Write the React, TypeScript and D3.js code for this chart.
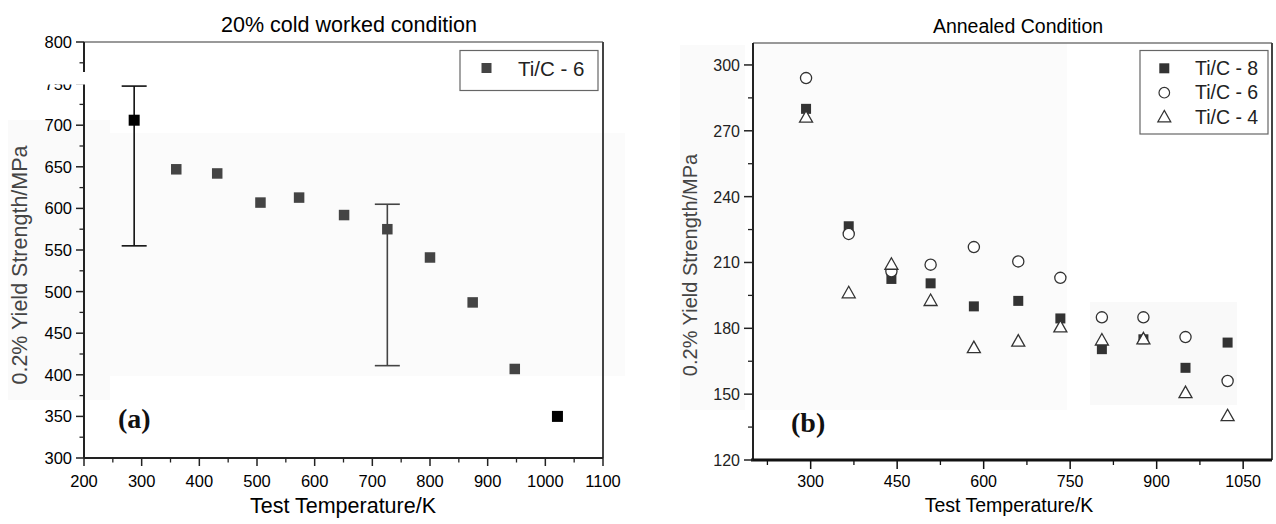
import React from "react";
import * as d3 from "d3";

// ---------- Panel (a): 20% cold worked condition ----------
const coldTemps = [287, 360, 431, 506, 573, 651, 726, 800, 874, 947, 1021];
const coldStrength = [706, 647, 642, 607, 613, 592, 575, 541, 487, 407, 350];
const errTemps = [287, 726];
const errLow = [555, 411];
const errHigh = [747, 605];

const leftXTicks = [200, 300, 400, 500, 600, 700, 800, 900, 1000, 1100];
const leftXMinor = [250, 350, 450, 550, 650, 750, 850, 950, 1050];
const leftYTicks = [300, 350, 400, 450, 500, 550, 600, 650, 700, 750, 800];
const leftYMinor = [325, 375, 425, 475, 525, 575, 625, 675, 725, 775];

// ---------- Panel (b): Annealed condition ----------
const annealTemps = [292, 366, 440, 508, 583, 660, 733, 805, 877, 950, 1023];
const ti8 = [280, 226.5, 202.5, 200.5, 190, 192.5, 184.5, 170.5, 175, 162, 173.5];
const ti6 = [294, 223, 206, 209, 217, 210.5, 203, 185, 185, 176, 156];
const ti4 = [276, 196, 209, 192.5, 171, 174, 180.5, 174.5, 175, 150.5, 140];

const rightXTicks = [300, 450, 600, 750, 900, 1050];
const rightXMinor = [225, 375, 525, 675, 825, 975];
const rightYTicks = [120, 150, 180, 210, 240, 270, 300];
const rightYMinor = [135, 165, 195, 225, 255, 285];

const SANS = "'Liberation Sans', Arial, Helvetica, sans-serif";
const SERIF = "'Liberation Serif', 'Times New Roman', serif";

function triPath(cx: number, cy: number, w = 13, h = 11.5) {
  return `M${cx},${cy - h * 0.6} L${cx + w / 2},${cy + h * 0.4} L${cx - w / 2},${cy + h * 0.4} Z`;
}

export default function App() {
  const xA = d3.scaleLinear().domain([200, 1100]).range([84, 603]);
  const yA = d3.scaleLinear().domain([300, 800]).range([458, 42]);
  const xB = d3.scaleLinear().domain([200, 1100]).range([753, 1272]);
  const yB = d3.scaleLinear().domain([120, 310]).range([460, 43]);

  const n = coldTemps.length;

  return (
    <svg
      width={1276}
      height={524}
      style={{ position: "absolute", left: 0, top: 0, background: "#fff" }}
      fontFamily={SANS}
    >
      {/* faint scan background patches */}
      <rect x={8} y={120} width={102} height={280} fill="#fafafa" />
      <rect x={110} y={133} width={515} height={243} fill="#fbfbfb" />
      <rect x={680} y={45} width={65} height={365} fill="#fafafa" />
      <rect x={753} y={43} width={314} height={367} fill="#fbfbfb" />
      <rect x={1090} y={302} width={147} height={103} fill="#f9f9f9" />

      {/* ================= Panel (a) ================= */}
      <text x={349} y={32} fontSize={21.5} textAnchor="middle" fill="#000">
        20% cold worked condition
      </text>

      <line x1={xA(200)} x2={xA(1100)} y1={yA(800)} y2={yA(800)} stroke="#777" strokeWidth={1.5} />
      <line x1={xA(1100)} x2={xA(1100)} y1={yA(800)} y2={yA(300)} stroke="#444" strokeWidth={2} />
      <line x1={xA(200)} x2={xA(200)} y1={yA(800)} y2={yA(300)} stroke="#222" strokeWidth={2} />
      <line x1={xA(200)} x2={xA(1100)} y1={yA(300)} y2={yA(300)} stroke="#222" strokeWidth={2.2} />

      {leftXTicks.map((t) => (
        <g key={"lxt" + t}>
          <line x1={xA(t)} x2={xA(t)} y1={yA(300)} y2={yA(300) + 8} stroke="#222" strokeWidth={1.5} />
          <text x={xA(t)} y={487} fontSize={16.5} textAnchor="middle" fill="#000">
            {t}
          </text>
        </g>
      ))}
      {leftXMinor.map((t) => (
        <line key={"lxm" + t} x1={xA(t)} x2={xA(t)} y1={yA(300)} y2={yA(300) + 4.5} stroke="#222" strokeWidth={1.3} />
      ))}
      {leftYTicks.map((t) => (
        <g key={"lyt" + t}>
          <line x1={xA(200) - 8} x2={xA(200)} y1={yA(t)} y2={yA(t)} stroke="#222" strokeWidth={1.5} />
          <text x={72} y={yA(t) + 6} fontSize={16.5} textAnchor="end" fill="#000">
            {t}
          </text>
        </g>
      ))}
      {leftYMinor.map((t) => (
        <line key={"lym" + t} x1={xA(200) - 4.5} x2={xA(200)} y1={yA(t)} y2={yA(t)} stroke="#222" strokeWidth={1.3} />
      ))}
      {/* axis break */}
      <rect x={35} y={72} width={55} height={12.5} fill="#fff" />

      {errTemps.map((t, i) => (
        <g key={"err" + i} stroke={i === 0 ? "#111" : "#444"} strokeWidth={1.6}>
          <line x1={xA(t)} x2={xA(t)} y1={yA(errLow[i])} y2={yA(errHigh[i])} />
          <line x1={xA(t) - 12.5} x2={xA(t) + 12.5} y1={yA(errLow[i])} y2={yA(errLow[i])} />
          <line x1={xA(t) - 12.5} x2={xA(t) + 12.5} y1={yA(errHigh[i])} y2={yA(errHigh[i])} />
        </g>
      ))}

      {coldTemps.map((t, i) => {
        const edge = i === 0 || i === n - 1;
        const s = edge ? 11 : 10.5;
        return (
          <rect
            key={"cp" + i}
            x={xA(t) - s / 2}
            y={yA(coldStrength[i]) - s / 2}
            width={s}
            height={s}
            fill={edge ? "#000" : "#444"}
          />
        );
      })}

      <rect x={460} y={50.5} width={138} height={40} fill="#fff" stroke="#666" strokeWidth={1.2} />
      <rect x={486.5 - 5} y={68 - 5} width={10} height={10} fill="#444" />
      <text x={518} y={76} fontSize={20.5} fill="#222">
        Ti/C - 6
      </text>

      <text x={118} y={428} fontSize={28} fontWeight="bold" fontFamily={SERIF} fill="#111">
        (a)
      </text>

      <text transform={`translate(27,265) rotate(-90)`} fontSize={21.5} textAnchor="middle" fill="#444">
        0.2% Yield Strength/MPa
      </text>
      <text x={343} y={513} fontSize={21.5} textAnchor="middle" fill="#000">
        Test Temperature/K
      </text>

      {/* ================= Panel (b) ================= */}
      <text x={1018} y={33} fontSize={19.5} textAnchor="middle" fill="#000">
        Annealed Condition
      </text>

      <line x1={xB(200)} x2={xB(1100)} y1={yB(310)} y2={yB(310)} stroke="#777" strokeWidth={1.5} />
      <line x1={xB(1100)} x2={xB(1100)} y1={yB(310)} y2={yB(120)} stroke="#444" strokeWidth={2} />
      <line x1={xB(200)} x2={xB(200)} y1={yB(310)} y2={yB(120)} stroke="#222" strokeWidth={2} />
      <line x1={xB(200) - 2} x2={xB(1100)} y1={yB(120)} y2={yB(120)} stroke="#111" strokeWidth={3} />

      {rightXTicks.map((t) => (
        <g key={"rxt" + t}>
          <line x1={xB(t)} x2={xB(t)} y1={yB(120)} y2={yB(120) + 9} stroke="#111" strokeWidth={1.5} />
          <text x={xB(t)} y={487} fontSize={16} textAnchor="middle" fill="#000">
            {t}
          </text>
        </g>
      ))}
      {rightXMinor.map((t) => (
        <line key={"rxm" + t} x1={xB(t)} x2={xB(t)} y1={yB(120)} y2={yB(120) + 5} stroke="#111" strokeWidth={1.3} />
      ))}
      {rightYTicks.map((t) => (
        <g key={"ryt" + t}>
          <line x1={xB(200) - 9} x2={xB(200)} y1={yB(t)} y2={yB(t)} stroke="#222" strokeWidth={1.5} />
          <text x={740} y={yB(t) + 6} fontSize={16} textAnchor="end" fill="#222">
            {t}
          </text>
        </g>
      ))}
      {rightYMinor.map((t) => (
        <line key={"rym" + t} x1={xB(200) - 5} x2={xB(200)} y1={yB(t)} y2={yB(t)} stroke="#222" strokeWidth={1.3} />
      ))}

      {annealTemps.map((t, i) => (
        <rect key={"s8" + i} x={xB(t) - 5} y={yB(ti8[i]) - 5} width={10} height={10} fill="#333" />
      ))}
      {annealTemps.map((t, i) => (
        <circle key={"s6" + i} cx={xB(t)} cy={yB(ti6[i])} r={5.6} fill="#fff" stroke="#333" strokeWidth={1.3} />
      ))}
      {annealTemps.map((t, i) => (
        <path key={"s4" + i} d={triPath(xB(t), yB(ti4[i]))} fill="#fff" stroke="#333" strokeWidth={1.3} />
      ))}

      <rect x={1140} y={50.5} width={128} height={83.5} fill="#fff" stroke="#666" strokeWidth={1.2} />
      <rect x={1164.3 - 5} y={68.3 - 5} width={10} height={10} fill="#333" />
      <circle cx={1164.3} cy={92.7} r={5.3} fill="#fff" stroke="#333" strokeWidth={1.2} />
      <path d={triPath(1164.3, 117.3)} fill="#fff" stroke="#333" strokeWidth={1.2} />
      <text x={1195} y={74.5} fontSize={19.5} fill="#222">Ti/C - 8</text>
      <text x={1195} y={99} fontSize={19.5} fill="#222">Ti/C - 6</text>
      <text x={1195} y={123.5} fontSize={19.5} fill="#222">Ti/C - 4</text>

      <text x={791} y={432} fontSize={28} fontWeight="bold" fontFamily={SERIF} fill="#111">
        (b)
      </text>

      <text transform={`translate(697,265) rotate(-90)`} fontSize={20} textAnchor="middle" fill="#444">
        0.2% Yield Strength/MPa
      </text>
      <text x={1009} y={512} fontSize={19.5} textAnchor="middle" fill="#000">
        Test Temperature/K
      </text>
    </svg>
  );
}
